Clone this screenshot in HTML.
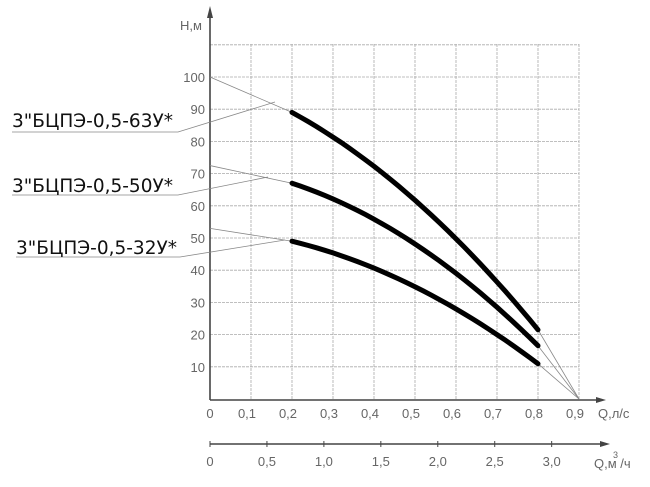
<!DOCTYPE html><html><head><meta charset="utf-8"><style>
body{margin:0;background:#fff}
svg{display:block}
text{font-family:"DejaVu Sans","Liberation Sans",sans-serif}
.t{font-size:13px;fill:#666;font-family:"Liberation Sans",sans-serif}
.l{font-size:18.5px;fill:#111}
</style></head><body>
<svg id="s" width="650" height="487" viewBox="0 0 650 487" xmlns="http://www.w3.org/2000/svg">
<g id="grid" stroke="#aaa" stroke-width="0.8" stroke-dasharray="3,1"></g>
<g stroke="#444" stroke-width="1.6" fill="none">
<line x1="210" y1="400" x2="210" y2="12"/>
<line x1="210" y1="400" x2="600" y2="400"/>
<line x1="210" y1="444" x2="605" y2="444"/>
</g>
<polygon points="207,18 210,6 213,18" fill="#444"/>
<polygon points="596,397 606,400 596,403" fill="#444"/>
<polygon points="600,441 610,444 600,447" fill="#444"/>
<g id="thin" stroke="#888" stroke-width="0.8" fill="none"></g>
<g id="thick" stroke="#000" stroke-width="5" fill="none" stroke-linecap="round"></g>
<g stroke="#888" stroke-width="0.8" fill="none">
<polyline points="12,132 178,132 275,102"/>
<polyline points="12,195 178,195 268,177"/>
<polyline points="16,257 180,257 285,240"/>
</g>
<text class="l" x="12" y="127">3"БЦПЭ-0,5-63У*</text>
<text class="l" x="12" y="192">3"БЦПЭ-0,5-50У*</text>
<text class="l" x="16" y="254">3"БЦПЭ-0,5-32У*</text>
<text class="t" x="180" y="30">Н,м</text>
<g id="labs"></g>
</svg>
<script>
var NS="http://www.w3.org/2000/svg";
function X(q){return 210+q*410}
function Y(h){return 399-h*3.22}
function el(p,tag,a,txt){var e=document.createElementNS(NS,tag);for(var k in a)e.setAttribute(k,a[k]);if(txt)e.textContent=txt;document.getElementById(p).appendChild(e);}
for(var k=1;k<=9;k++)el("grid","line",{x1:X(k/10),y1:44,x2:X(k/10),y2:400});
for(var h=10;h<=110;h+=10)el("grid","line",{x1:210,y1:Y(h),x2:X(0.9),y2:Y(h)});
for(var h=10;h<=100;h+=10)el("labs","text",{"class":"t","x":205,"y":Y(h)+5,"text-anchor":"end"},""+h);
for(var k=0;k<=9;k++)el("labs","text",{"class":"t","x":X(k/10)-(k?4:0),"y":418,"text-anchor":"middle"},k?("0,"+k):"0");
el("labs","text",{"class":"t","x":598,"y":418},"Q,л/с");
var m=["0","0,5","1,0","1,5","2,0","2,5","3,0"];
for(var i=0;i<m.length;i++){var x=X(i*0.5/3.6);el("labs","line",{x1:x,y1:441,x2:x,y2:447,stroke:"#444"});el("labs","text",{"class":"t","x":x,"y":466,"text-anchor":"middle"},m[i]);}
el("labs","text",{"class":"t","x":594,"y":468},"Q,м  /ч");
el("labs","text",{"class":"t","x":613,"y":458,"style":"font-size:9px"},"3");
var C=[[100,40.6,71.9],[72.5,13.3,70.8],[53,9.2,54.2]];
C.forEach(function(c){function H(q){return c[0]-c[1]*q-c[2]*q*q}
var p="";for(var q=0.2;q<=0.8001;q+=0.02)p+=X(q).toFixed(1)+","+Y(H(q)).toFixed(1)+" ";
el("thick","polyline",{points:p});
el("thin","polyline",{points:X(0)+","+Y(c[0])+" "+X(0.2)+","+Y(H(0.2))});
el("thin","polyline",{points:X(0.8)+","+Y(H(0.8))+" "+X(0.9)+","+Y(0)});});
</script>
</body></html>
